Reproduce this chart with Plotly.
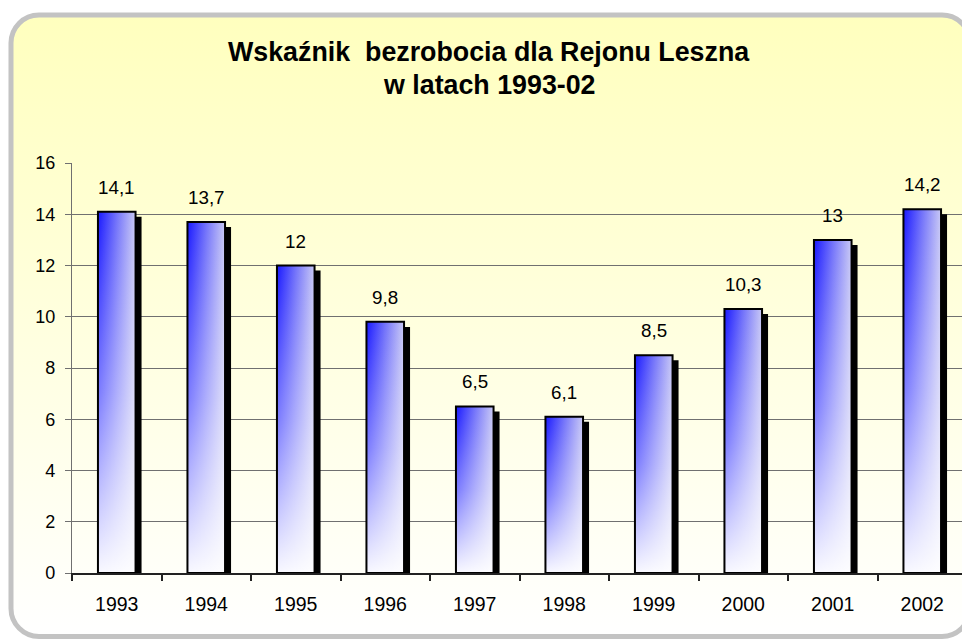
import numpy as np
import plotly.graph_objects as go

# ---- data ----
years = [1993, 1994, 1995, 1996, 1997, 1998, 1999, 2000, 2001, 2002]
rates = [14.1, 13.7, 12.0, 9.8, 6.5, 6.1, 8.5, 10.3, 13.0, 14.2]
year_labels = [str(y) for y in years]
y_ticks = [0, 2, 4, 6, 8, 10, 12, 14, 16]
title_lines = ["Wskaźnik\u00a0 bezrobocia dla Rejonu Leszna", "w latach 1993-02"]

W, H = 962, 640
FONT = "Liberation Sans, Arial, sans-serif"

fig = go.Figure()

# ---- rounded frame: gradient fill (background subplot in pixel units) ----
FL, FT, FR, FB, FRAD = 11, 15, 970, 636.5, 28

def rounded_rect(l, t, r, b, rad, n=14):
    xs, ys = [], []
    corners = [(r - rad, t + rad, -90, 0), (r - rad, b - rad, 0, 90),
               (l + rad, b - rad, 90, 180), (l + rad, t + rad, 180, 270)]
    for cx, cy, a0, a1 in corners:
        for a in np.linspace(a0, a1, n):
            xs.append(cx + rad * np.cos(np.radians(a)))
            ys.append(cy + rad * np.sin(np.radians(a)))
    xs.append(xs[0]); ys.append(ys[0])
    return xs, ys

fx, fy = rounded_rect(FL, FT, FR, FB, FRAD)
fig.add_trace(go.Scatter(
    x=fx, y=fy, xaxis="x", yaxis="y", mode="lines", fill="toself",
    fillgradient=dict(type="vertical", start=FT, stop=FB,
                      colorscale=[[0, "rgb(255,255,190)"], [1, "rgb(255,255,255)"]]),
    line=dict(width=0, color="rgba(0,0,0,0)"), hoverinfo="skip", showlegend=False))

# frame border as a paper-referenced path (cubic corners)
def P(x, y):
    return f"{x / W:.5f},{1 - y / H:.5f}"

k = 0.5523 * FRAD
path = (f"M {P(FL + FRAD, FT)} L {P(FR - FRAD, FT)} "
        f"C {P(FR - FRAD + k, FT)} {P(FR, FT + FRAD - k)} {P(FR, FT + FRAD)} "
        f"L {P(FR, FB - FRAD)} "
        f"C {P(FR, FB - FRAD + k)} {P(FR - FRAD + k, FB)} {P(FR - FRAD, FB)} "
        f"L {P(FL + FRAD, FB)} "
        f"C {P(FL + FRAD - k, FB)} {P(FL, FB - FRAD + k)} {P(FL, FB - FRAD)} "
        f"L {P(FL, FT + FRAD)} "
        f"C {P(FL, FT + FRAD - k)} {P(FL + FRAD - k, FT)} {P(FL + FRAD, FT)} Z")

# ---- bars ----
bw = 0.42
dx = 6 / 89.5
dy = 5 / 25.625

sx, sy = [], []
for yr, v in zip(years, rates):
    sx += [yr - bw / 2 + dx, yr + bw / 2 + dx, yr + bw / 2 + dx, yr - bw / 2 + dx, yr - bw / 2 + dx, None]
    sy += [0, 0, v - dy, v - dy, 0, None]
fig.add_trace(go.Scatter(x=sx, y=sy, xaxis="x2", yaxis="y2", mode="lines", fill="toself",
                         fillcolor="black", line=dict(width=0, color="black"),
                         hoverinfo="skip", showlegend=False))

for yr, v in zip(years, rates):
    bx = [yr - bw / 2, yr + bw / 2, yr + bw / 2, yr - bw / 2, yr - bw / 2]
    by = [0, 0, v, v, 0]
    fig.add_trace(go.Scatter(
        x=bx, y=by, xaxis="x2", yaxis="y2", mode="lines", fill="toself",
        fillgradient=dict(type="horizontal",
                          colorscale=[[0, "rgb(25,25,255)"], [0.5, "rgb(115,115,250)"], [1, "rgb(200,200,245)"]]),
        line=dict(width=0), hoverinfo="skip", showlegend=False))
    fig.add_trace(go.Scatter(
        x=bx, y=by, xaxis="x2", yaxis="y2", mode="lines", fill="toself",
        fillgradient=dict(type="vertical",
                          colorscale=[[0, "rgba(255,255,255,0.97)"], [0.5, "rgba(255,255,255,0.42)"],
                                      [1, "rgba(255,255,255,0)"]]),
        line=dict(width=0), hoverinfo="skip", showlegend=False))

ox, oy = [], []
for yr, v in zip(years, rates):
    ox += [yr - bw / 2, yr + bw / 2, yr + bw / 2, yr - bw / 2, yr - bw / 2, None]
    oy += [0, 0, v, v, 0, None]
fig.add_trace(go.Scatter(x=ox, y=oy, xaxis="x2", yaxis="y2", mode="lines",
                         line=dict(color="black", width=2), hoverinfo="skip", showlegend=False))

# ---- value labels ----
def fmt(v):
    return f"{v:g}".replace(".", ",")

annotations = []
for yr, v in zip(years, rates):
    annotations.append(dict(x=yr, y=v, xref="x2", yref="y2", text=fmt(v), showarrow=False,
                            yanchor="bottom", yshift=12, font=dict(family=FONT, size=18.8, color="black")))

annotations.append(dict(x=489 / W, y=1 - 52 / H, xref="paper", yref="paper", text=f"<b>{title_lines[0]}</b>",
                        showarrow=False, xanchor="center", yanchor="middle",
                        font=dict(family=FONT, size=26.8, color="black")))
annotations.append(dict(x=489 / W, y=1 - 85 / H, xref="paper", yref="paper", text=f"<b>{title_lines[1]}</b>",
                        showarrow=False, xanchor="center", yanchor="middle",
                        font=dict(family=FONT, size=26.8, color="black")))

fig.update_layout(
    template="none",
    width=W, height=H,
    margin=dict(l=0, r=0, t=0, b=0, pad=0, autoexpand=False),
    paper_bgcolor="white", plot_bgcolor="rgba(0,0,0,0)",
    showlegend=False,
    annotations=annotations,
    shapes=[dict(type="path", xref="paper", yref="paper", path=path, layer="above",
                 line=dict(color="#C3C3C3", width=5), fillcolor="rgba(0,0,0,0)")],
    xaxis=dict(domain=[0, 1], range=[0, W], visible=False, fixedrange=True, automargin=False),
    yaxis=dict(domain=[0, 1], range=[H, 0], visible=False, fixedrange=True, automargin=False),
    xaxis2=dict(domain=[72 / W, 1], anchor="y2", automargin=False,
                range=[years[0] - 0.5, years[0] - 0.5 + 890 / 89.5],
                tickvals=years, ticktext=year_labels, ticks="",
                showline=True, linecolor="#222", linewidth=1.5,
                showgrid=False, zeroline=False,
                minor=dict(tickvals=[y - 0.5 for y in years] + [years[-1] + 0.5],
                           ticks="outside", ticklen=6, tickcolor="#222", tickwidth=1.5, showgrid=False),
                tickfont=dict(family=FONT, size=19.5, color="black"),
                ticklabelstandoff=13),
    yaxis2=dict(domain=[67 / H, 477 / H], anchor="x2", range=[0, 16], automargin=False,
                tickvals=y_ticks, ticktext=[str(t) for t in y_ticks],
                showgrid=True, gridcolor="#707070", gridwidth=1,
                showline=True, linecolor="#707070", linewidth=1.2,
                ticks="outside", ticklen=6, tickcolor="#707070",
                zeroline=False,
                tickfont=dict(family=FONT, size=18, color="black"),
                ticklabelstandoff=6),
)

fig.write_html("out.html", config={"displayModeBar": False},
               post_script="document.body.style.margin='0';")
